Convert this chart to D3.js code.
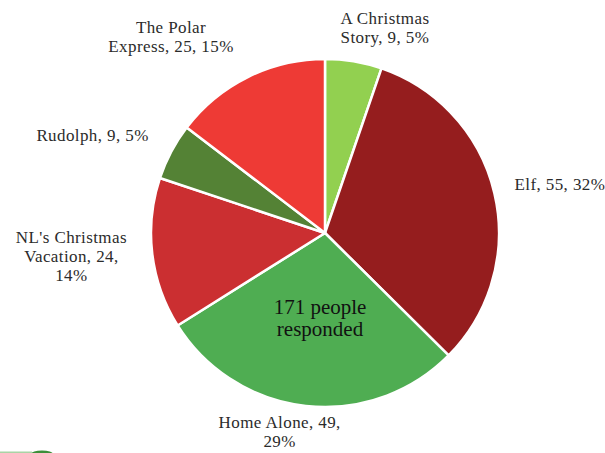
<!DOCTYPE html>
<html lang="en">
<head>
  <meta charset="UTF-8">
  <title>Favourite Christmas Movie</title>
  <script src="https://d3js.org/d3.v7.min.js"></script>
  <style>
    body { margin: 0; background: #fff; }
    svg { display: block; }
    .label text {
      font-family: "Liberation Serif", "DejaVu Serif", serif;
      font-size: 17px;
      letter-spacing: 0.4px;
      fill: #2b2b2b;
    }
    .center-text {
      font-family: "Liberation Serif", "DejaVu Serif", serif;
      font-size: 21px;
      fill: #111;
    }
  </style>
</head>
<body>
  <svg id="chart" width="605" height="453"></svg>

  <script>
    // data, clockwise from 12 o'clock
    const movies = ["A Christmas Story", "Elf", "Home Alone", "NL's Christmas Vacation", "Rudolph", "The Polar Express"];
    const votes = [9, 55, 49, 24, 9, 25];
    const colors = ["#92d050", "#951d1e", "#4fad52", "#cb2f31", "#548235", "#ee3a35"];
    // how each data label wraps in the original
    const labelLines = [
      ["A Christmas", "Story, 9, 5%"],
      ["Elf, 55, 32%"],
      ["Home Alone, 49,", "29%"],
      ["NL's Christmas", "Vacation, 24,", "14%"],
      ["Rudolph, 9, 5%"],
      ["The Polar", "Express, 25, 15%"]
    ];
    const centerLines = ["171 people", "responded"];

    // label nudges from the default outside-end spot
    const labelNudge = [[28, -14], [46, -5], [-24, 6], [-61, 0], [-61, -7], [-68, -23]];

    const svg = d3.select("#chart");
    const cx = 325, cy = 233, r = 174;

    const pie = d3.pie().sort(null).value(d => d.value)(
      movies.map((m, i) => ({ name: m, value: votes[i] }))
    );
    const arc = d3.arc().innerRadius(0).outerRadius(r);

    const g = svg.append("g").attr("transform", `translate(${cx},${cy})`);

    g.selectAll("path.slice")
      .data(pie)
      .join("path")
      .attr("class", "slice")
      .attr("d", arc)
      .attr("fill", (d, i) => colors[i])
      .attr("stroke", "#fff")
      .attr("stroke-width", 2.5)
      .attr("stroke-linejoin", "round");

    // data labels
    const lineH = 19;
    const labels = g.selectAll("g.label")
      .data(pie)
      .join("g")
      .attr("class", "label")
      .attr("transform", (d, i) => {
        const a = (d.startAngle + d.endAngle) / 2;
        const R = r + 20;
        const x = Math.sin(a) * R + labelNudge[i][0];
        const y = -Math.cos(a) * R + labelNudge[i][1];
        return `translate(${x},${y})`;
      });

    labels.append("text")
      .attr("text-anchor", "middle")
      .each(function (d, i) {
        const lines = labelLines[i];
        const t = d3.select(this);
        const y0 = -(lines.length - 1) * lineH / 2 + 6;
        lines.forEach((s, k) => {
          t.append("tspan").attr("x", 0).attr("y", y0 + k * lineH).text(s);
        });
      });

    // note inside the pie
    const note = g.append("text")
      .attr("class", "center-text")
      .attr("text-anchor", "middle");
    centerLines.forEach((s, k) => {
      note.append("tspan").attr("x", -5).attr("y", 81 + k * 22).text(s);
    });

    // small green scrap at the bottom-left corner of the slide
    svg.append("ellipse")
      .attr("cx", 42).attr("cy", 454)
      .attr("rx", 11).attr("ry", 3.5)
      .attr("fill", "#3c8f3a");
    svg.append("rect")
      .attr("x", 0).attr("y", 451.5)
      .attr("width", 32).attr("height", 1.5)
      .attr("fill", "#a9d4a6");
  </script>
</body>
</html>
